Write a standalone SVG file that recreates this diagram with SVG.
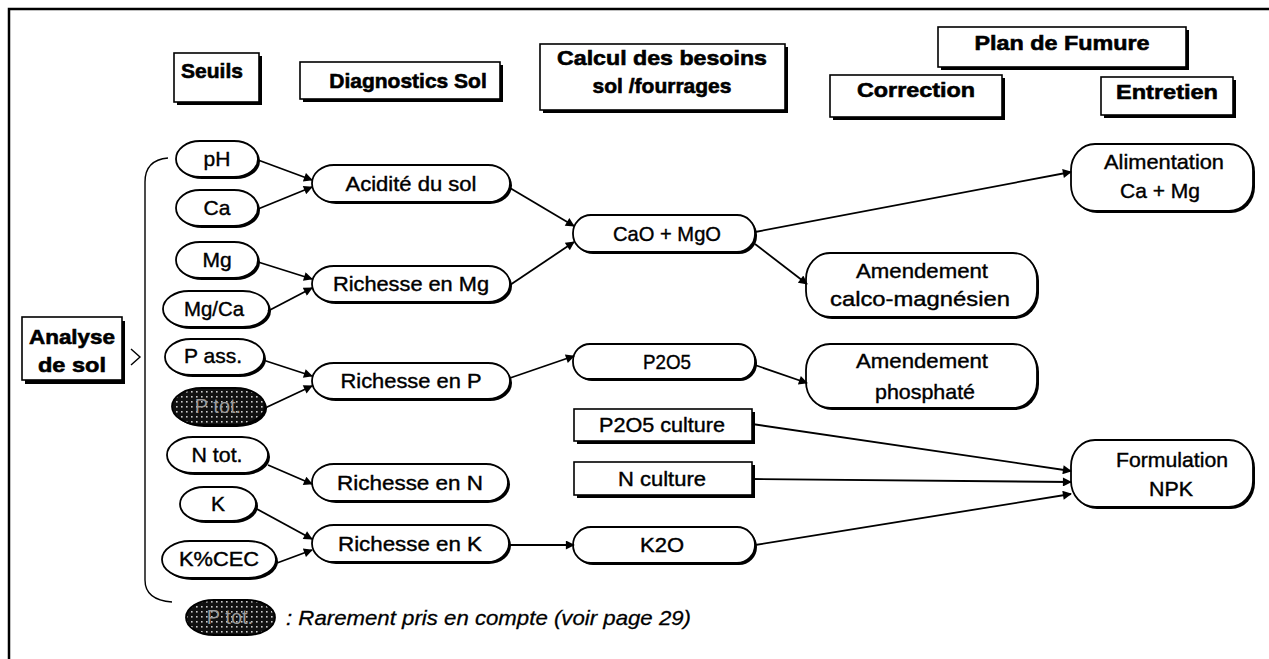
<svg xmlns="http://www.w3.org/2000/svg" width="1269" height="659" viewBox="0 0 1269 659">
<style>
.hb{fill:#fff;stroke:#000;stroke-width:1.6}
.sh{fill:#000}
.nd{fill:#fff;stroke:#000;stroke-width:1.8}
.ht{font-family:"Liberation Sans",Arial,sans-serif;font-weight:bold;font-size:21px;fill:#000;stroke:#000;stroke-width:0.6;text-anchor:middle}
.nt{font-family:"Liberation Sans",Arial,sans-serif;font-size:21px;fill:#000;stroke:#000;stroke-width:0.4;text-anchor:middle}
.pt{font-family:"Liberation Sans",Arial,sans-serif;font-size:20px;fill:#9a9a9a;text-anchor:middle}
.lt{font-family:"Liberation Sans",Arial,sans-serif;font-style:italic;font-size:21px;fill:#000;stroke:#000;stroke-width:0.3}
.cn{stroke:#000;stroke-width:1.8;fill:none;marker-end:url(#ah)}
</style>
<defs>
<marker id="ah" viewBox="0 0 10 10" refX="9" refY="5" markerWidth="11" markerHeight="9" markerUnits="userSpaceOnUse" orient="auto">
<path d="M0,0 L10,5 L0,10 z" fill="#000"/>
</marker>
<pattern id="dots" width="5" height="5" patternUnits="userSpaceOnUse">
<rect width="5" height="5" fill="#111"/>
<rect x="1" y="1" width="1.6" height="1.6" fill="#ccc"/>
</pattern>
</defs>
<rect width="1269" height="659" fill="#fff"/>
<path d="M9,659 V9 H1269" fill="none" stroke="#000" stroke-width="2.5"/>

<!-- headers -->
<g id="h-seuils"><rect class="sh" x="177" y="56" width="85" height="49"/><rect class="hb" x="174" y="53" width="85" height="49"/><text class="ht" x="212" y="78">Seuils</text></g>
<g id="h-diag"><rect class="sh" x="303" y="65" width="200" height="37"/><rect class="hb" x="300" y="62" width="200" height="37"/><text class="ht" x="408" y="88">Diagnostics Sol</text></g>
<g id="h-calcul"><rect class="sh" x="543" y="47" width="245" height="66"/><rect class="hb" x="540" y="44" width="245" height="66"/><text class="ht" x="662" y="65" textLength="210" lengthAdjust="spacingAndGlyphs">Calcul des besoins</text><text class="ht" x="662" y="93">sol /fourrages</text></g>
<g id="h-plan"><rect class="sh" x="941" y="30" width="248" height="40"/><rect class="hb" x="938" y="27" width="248" height="40"/><text class="ht" x="1062" y="50" textLength="175" lengthAdjust="spacingAndGlyphs">Plan de Fumure</text></g>
<g id="h-corr"><rect class="sh" x="833" y="78" width="172" height="42"/><rect class="hb" x="830" y="75" width="172" height="42"/><text class="ht" x="916" y="97" textLength="118" lengthAdjust="spacingAndGlyphs">Correction</text></g>
<g id="h-entr"><rect class="sh" x="1104" y="80" width="132" height="38"/><rect class="hb" x="1101" y="77" width="132" height="38"/><text class="ht" x="1167" y="99" textLength="102" lengthAdjust="spacingAndGlyphs">Entretien</text></g>

<g id="analyse"><rect class="sh" x="25" y="321" width="100" height="63"/><rect class="hb" x="22" y="317" width="100" height="63"/><text class="ht" x="72" y="344" textLength="86" lengthAdjust="spacingAndGlyphs">Analyse</text><text class="ht" x="72" y="372" textLength="68" lengthAdjust="spacingAndGlyphs">de sol</text></g>

<g id="brace" fill="none" stroke="#000" stroke-width="1.4">
<path d="M168,158 Q145,160 145,182 V580 Q145,600 172,602"/>
<path d="M131,349 L140,357 L131,365"/>
</g>

<!-- seuils ovals -->
<g id="n-ph"><rect class="sh" x="178" y="143" width="82" height="36" rx="24" ry="18"/><rect class="nd" x="176" y="141" width="82" height="36" rx="24" ry="18"/><text class="nt" x="217" y="166">pH</text></g>
<g id="n-ca"><rect class="sh" x="178" y="192" width="82" height="36" rx="24" ry="18"/><rect class="nd" x="176" y="190" width="82" height="36" rx="24" ry="18"/><text class="nt" x="217" y="215">Ca</text></g>
<g id="n-mg"><rect class="sh" x="178" y="244" width="82" height="36" rx="24" ry="18"/><rect class="nd" x="176" y="242" width="82" height="36" rx="24" ry="18"/><text class="nt" x="217" y="267">Mg</text></g>
<g id="n-mgca"><rect class="sh" x="165" y="293" width="106" height="36" rx="26" ry="18"/><rect class="nd" x="163" y="291" width="106" height="36" rx="26" ry="18"/><text class="nt" x="214" y="316" textLength="60" lengthAdjust="spacingAndGlyphs">Mg/Ca</text></g>
<g id="n-pass"><rect class="sh" x="167" y="341" width="99" height="36" rx="26" ry="18"/><rect class="nd" x="165" y="339" width="99" height="36" rx="26" ry="18"/><text class="nt" x="213" y="363" textLength="58" lengthAdjust="spacingAndGlyphs">P ass.</text></g>
<g id="n-ptot"><rect class="sh" x="174" y="390" width="93" height="37" rx="30" ry="18.5"/><rect x="172" y="388" width="93" height="37" rx="30" ry="18.5" fill="url(#dots)" stroke="#000" stroke-width="1.8"/><text class="pt" x="218" y="413">P tot.</text></g>
<g id="n-ntot"><rect class="sh" x="169" y="439" width="101" height="36" rx="26" ry="18"/><rect class="nd" x="167" y="437" width="101" height="36" rx="26" ry="18"/><text class="nt" x="217" y="462" textLength="51" lengthAdjust="spacingAndGlyphs">N tot.</text></g>
<g id="n-k"><rect class="sh" x="182" y="489" width="76" height="34" rx="24" ry="17"/><rect class="nd" x="180" y="487" width="76" height="34" rx="24" ry="17"/><text class="nt" x="218" y="511">K</text></g>
<g id="n-kcec"><rect class="sh" x="164" y="543" width="114" height="37" rx="28" ry="18.5"/><rect class="nd" x="162" y="541" width="114" height="37" rx="28" ry="18.5"/><text class="nt" x="219" y="566" textLength="80" lengthAdjust="spacingAndGlyphs">K%CEC</text></g>

<!-- diagnostics -->
<g id="n-acid"><rect class="sh" x="314" y="167" width="198" height="37" rx="22" ry="18.5"/><rect class="nd" x="312" y="165" width="198" height="37" rx="22" ry="18.5"/><text class="nt" x="411" y="191" textLength="131" lengthAdjust="spacingAndGlyphs">Acidité du sol</text></g>
<g id="n-rmg"><rect class="sh" x="314" y="268" width="198" height="36" rx="22" ry="18"/><rect class="nd" x="312" y="266" width="198" height="36" rx="22" ry="18"/><text class="nt" x="411" y="291" textLength="156" lengthAdjust="spacingAndGlyphs">Richesse en Mg</text></g>
<g id="n-rp"><rect class="sh" x="314" y="365" width="198" height="36" rx="22" ry="18"/><rect class="nd" x="312" y="363" width="198" height="36" rx="22" ry="18"/><text class="nt" x="411" y="388" textLength="141" lengthAdjust="spacingAndGlyphs">Richesse en P</text></g>
<g id="n-rn"><rect class="sh" x="314" y="466" width="196" height="37" rx="22" ry="18.5"/><rect class="nd" x="312" y="464" width="196" height="37" rx="22" ry="18.5"/><text class="nt" x="410" y="490" textLength="146" lengthAdjust="spacingAndGlyphs">Richesse en N</text></g>
<g id="n-rk"><rect class="sh" x="314" y="527" width="197" height="37" rx="22" ry="18.5"/><rect class="nd" x="312" y="525" width="197" height="37" rx="22" ry="18.5"/><text class="nt" x="410" y="551" textLength="144" lengthAdjust="spacingAndGlyphs">Richesse en K</text></g>

<!-- calcul -->
<g id="n-cao"><rect class="sh" x="575" y="217" width="182" height="37" rx="18" ry="18"/><rect class="nd" x="573" y="215" width="182" height="37" rx="18" ry="18"/><text class="nt" x="667" y="241" textLength="108" lengthAdjust="spacingAndGlyphs">CaO + MgO</text></g>
<g id="n-p2o5"><rect class="sh" x="575" y="346" width="182" height="35" rx="17" ry="17"/><rect class="nd" x="573" y="344" width="182" height="35" rx="17" ry="17"/><text class="nt" x="667" y="369" textLength="48" lengthAdjust="spacingAndGlyphs">P2O5</text></g>
<g id="n-p2o5c"><rect class="sh" x="577" y="412" width="178" height="32"/><rect class="hb" x="574" y="409" width="178" height="32"/><text class="nt" x="662" y="432" textLength="126" lengthAdjust="spacingAndGlyphs">P2O5 culture</text></g>
<g id="n-nc"><rect class="sh" x="577" y="465" width="178" height="33"/><rect class="hb" x="574" y="462" width="178" height="33"/><text class="nt" x="662" y="486" textLength="88" lengthAdjust="spacingAndGlyphs">N culture</text></g>
<g id="n-k2o"><rect class="sh" x="575" y="529" width="182" height="36" rx="18" ry="18"/><rect class="nd" x="573" y="527" width="182" height="36" rx="18" ry="18"/><text class="nt" x="662" y="552" textLength="44" lengthAdjust="spacingAndGlyphs">K2O</text></g>

<!-- right -->
<g id="n-alim"><rect class="sh" x="1073" y="146" width="182" height="67" rx="24" ry="26"/><rect class="nd" x="1071" y="144" width="182" height="67" rx="24" ry="26"/><text class="nt" x="1164" y="169" textLength="120" lengthAdjust="spacingAndGlyphs">Alimentation</text><text class="nt" x="1160" y="198">Ca + Mg</text></g>
<g id="n-amcm"><rect class="sh" x="808" y="255" width="231" height="64" rx="24" ry="26"/><rect class="nd" x="806" y="253" width="231" height="64" rx="24" ry="26"/><text class="nt" x="922" y="278" textLength="132" lengthAdjust="spacingAndGlyphs">Amendement</text><text class="nt" x="920" y="306" textLength="180" lengthAdjust="spacingAndGlyphs">calco-magnésien</text></g>
<g id="n-amph"><rect class="sh" x="808" y="346" width="231" height="64" rx="24" ry="26"/><rect class="nd" x="806" y="344" width="231" height="64" rx="24" ry="26"/><text class="nt" x="922" y="368" textLength="132" lengthAdjust="spacingAndGlyphs">Amendement</text><text class="nt" x="925" y="399" textLength="100" lengthAdjust="spacingAndGlyphs">phosphaté</text></g>
<g id="n-form"><rect class="sh" x="1073" y="442" width="182" height="67" rx="24" ry="26"/><rect class="nd" x="1071" y="440" width="182" height="67" rx="24" ry="26"/><text class="nt" x="1172" y="467" textLength="112" lengthAdjust="spacingAndGlyphs">Formulation</text><text class="nt" x="1171" y="496" textLength="44" lengthAdjust="spacingAndGlyphs">NPK</text></g>

<!-- legend -->
<g id="legend"><rect x="186" y="600" width="89" height="35" rx="28" ry="17.5" fill="url(#dots)" stroke="#000" stroke-width="1.8"/><text class="pt" x="230" y="624">P tot.</text><text class="lt" x="286" y="625" textLength="405" lengthAdjust="spacingAndGlyphs">: Rarement pris en compte (voir page 29)</text></g>

<g id="connectors">
<line class="cn" x1="258" y1="160" x2="312" y2="180"/>
<line class="cn" x1="258" y1="209" x2="312" y2="187"/>
<line class="cn" x1="258" y1="262" x2="312" y2="279"/>
<line class="cn" x1="268" y1="311" x2="312" y2="288"/>
<line class="cn" x1="263" y1="360" x2="312" y2="376"/>
<line class="cn" x1="265" y1="408" x2="312" y2="386"/>
<line class="cn" x1="268" y1="465" x2="312" y2="484"/>
<line class="cn" x1="255" y1="508" x2="312" y2="539"/>
<line class="cn" x1="277" y1="563" x2="312" y2="550"/>
<line class="cn" x1="510" y1="188" x2="574" y2="226"/>
<line class="cn" x1="510" y1="285" x2="574" y2="242"/>
<line class="cn" x1="510" y1="378" x2="574" y2="356"/>
<line class="cn" x1="510" y1="545" x2="574" y2="545"/>
<line class="cn" x1="755" y1="232" x2="1071" y2="172"/>
<line class="cn" x1="755" y1="244" x2="807" y2="284"/>
<line class="cn" x1="755" y1="365" x2="807" y2="383"/>
<line class="cn" x1="752" y1="424" x2="1071" y2="471"/>
<line class="cn" x1="752" y1="479" x2="1071" y2="482"/>
<line class="cn" x1="755" y1="545" x2="1071" y2="494"/>
</g>
</svg>
